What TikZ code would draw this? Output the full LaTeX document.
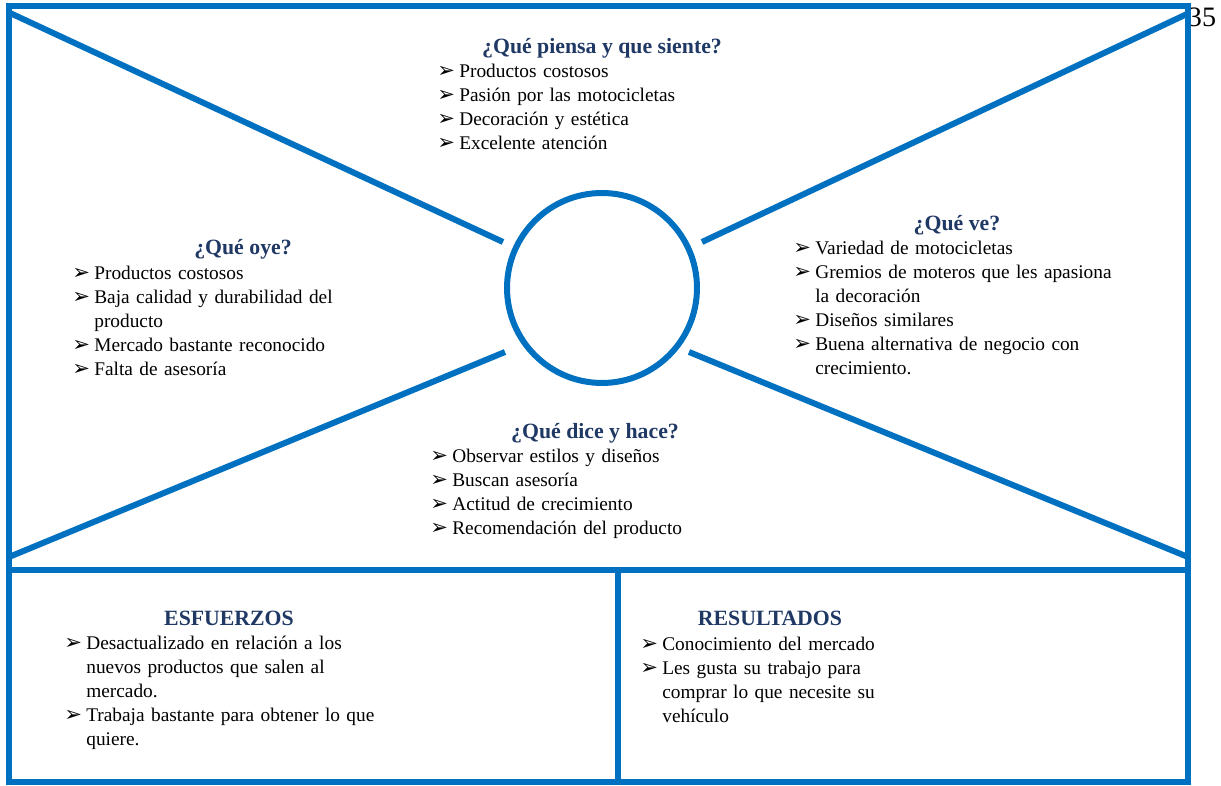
\documentclass[tikz,border=0pt]{standalone}
\usepackage{fontspec}
\setmainfont{Liberation Serif}
\newfontfamily\dingfont{DejaVu Sans}
\usetikzlibrary{positioning}
\usepackage{xcolor}

\definecolor{mapblue}{HTML}{0070C0}
\definecolor{titleblue}{HTML}{1F3864}

% one bullet line with hanging indent (break lines with \newline)
\newcommand{\punto}[1]{\noindent\hangindent=0.44cm\hangafter=1\makebox[0.44cm][l]{\dingfont\fontsize{12}{12}\selectfont ➢}#1\par}

\begin{document}
\begin{tikzpicture}[
        x=0.02cm, y=-0.02cm,
        marco/.style={draw=mapblue, line width=0.12cm},
        titulo/.style={anchor=base, inner sep=0pt, text=titleblue, font=\fontsize{12.4}{14}\selectfont\bfseries},
        lista/.style={anchor=north west, inner sep=0pt, text width=8cm, font=\fontsize{11}{13.6}\selectfont,
            execute at begin node=\raggedright}
    ]
        \useasboundingbox (0,0) rectangle (1221,786);

        % page number behind the frame
        \node[inner sep=0pt, font=\fontsize{16}{18}\selectfont] (pagina) at (1202,17) {35};

        % frame and dividers
        \draw[marco] (9,6) rectangle (1188,782);
        \draw[marco] (9,570) -- (1188,570);
        \draw[marco] (618,570) -- (618,782);

        % head in the middle
        \node[draw=mapblue, line width=0.12cm, circle, minimum size=3.8cm] (cabeza) at (602,288) {};

        % diagonals
        \coordinate (esqA) at (10,13);
        \coordinate (esqB) at (1187,14);
        \coordinate (esqC) at (9,557);
        \coordinate (esqD) at (1188,557);
        \coordinate (finA) at (503,242);
        \coordinate (finB) at (702,242);
        \coordinate (finC) at (505,352);
        \coordinate (finD) at (689,352);
        \draw[marco] (esqA) -- (finA);
        \draw[marco] (esqB) -- (finB);
        \draw[marco] (esqC) -- (finC);
        \draw[marco] (esqD) -- (finD);

        % titles
        \node[titulo] (piensa) at (602,54) {¿Qué piensa y que siente?};
        \node[titulo] (oye) at (243,255) {¿Qué oye?};
        \node[titulo] (ve) at (957,231) {¿Qué ve?};
        \node[titulo] (dice) at (595,439) {¿Qué dice y hace?};
        \node[titulo] (esfuerzos) at (229,626) {ESFUERZOS};
        \node[titulo] (resultados) at (770,626) {RESULTADOS};

        % lists
        \node[lista] (lpiensa) at (437,64) {%
            \punto{Productos costosos}
            \punto{Pasión por las motocicletas}
            \punto{Decoración y estética}
            \punto{Excelente atención}};
        \node[lista] (loye) at (72,266) {%
            \punto{Productos costosos}
            \punto{Baja calidad y durabilidad del\newline producto}
            \punto{Mercado bastante reconocido}
            \punto{Falta de asesoría}};
        \node[lista] (lve) at (793,241) {%
            \punto{Variedad de motocicletas}
            \punto{Gremios de moteros que les apasiona\newline la decoración}
            \punto{Diseños similares}
            \punto{Buena alternativa de negocio con\newline crecimiento.}};
        \node[lista] (ldice) at (430,449) {%
            \punto{Observar estilos y diseños}
            \punto{Buscan asesoría}
            \punto{Actitud de crecimiento}
            \punto{Recomendación del producto}};
        \node[lista] (lesfuerzos) at (64,636) {%
            \punto{Desactualizado en relación a los\newline nuevos productos que salen al\newline mercado.}
            \punto{Trabaja bastante para obtener lo que\newline quiere.}};
        \node[lista] (lresultados) at (640,637) {%
            \punto{Conocimiento del mercado}
            \punto{Les gusta su trabajo para\newline comprar lo que necesite su\newline vehículo}};

    \end{tikzpicture}
\end{document}
